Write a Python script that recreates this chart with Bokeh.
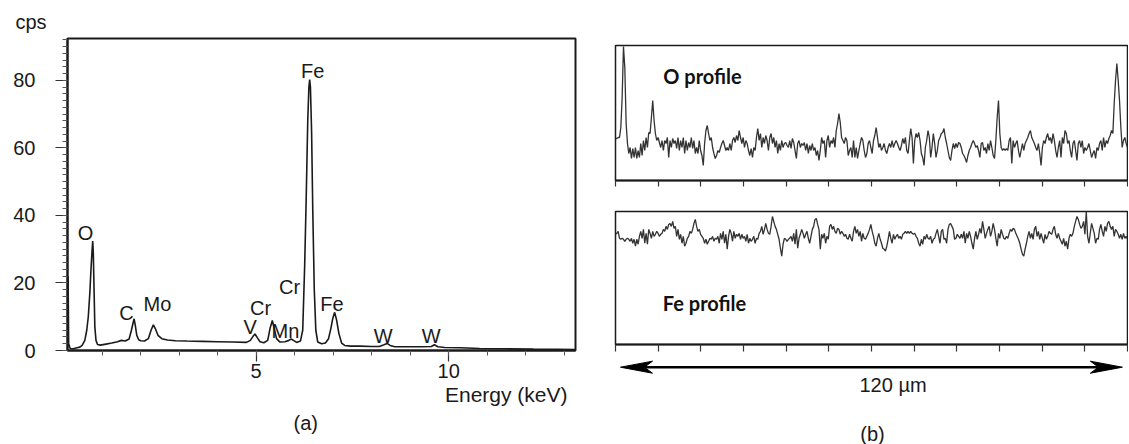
import numpy as np
from bokeh.plotting import figure
from bokeh.layouts import row, column
from bokeh.models import Label, FixedTicker, SingleIntervalTicker, Range1d, Title
from bokeh.embed import file_html
from bokeh.resources import INLINE

# ---------------- data: EDS spectrum (a) ----------------
energy_kev = [0.10, 0.115, 0.13, 0.17, 0.25, 0.35, 0.42, 0.48, 0.55, 0.60, 0.64, 0.68,
              0.71, 0.74, 0.755, 0.77, 0.79, 0.81, 0.84, 0.88, 0.95, 1.10, 1.25, 1.40,
              1.50, 1.60, 1.70, 1.76, 1.80, 1.83, 1.86, 1.90, 1.95, 2.00, 2.10, 2.20,
              2.27, 2.33, 2.38, 2.45, 2.55, 2.70, 2.90, 3.20, 3.60, 4.00, 4.40, 4.75,
              4.85, 4.92, 4.97, 5.03, 5.10, 5.20, 5.30, 5.36, 5.42, 5.47, 5.53, 5.62,
              5.75, 5.85, 5.91, 5.97, 6.05, 6.15, 6.21, 6.26, 6.30, 6.34, 6.37, 6.39,
              6.41, 6.44, 6.47, 6.51, 6.55, 6.60, 6.70, 6.80, 6.88, 6.94, 6.99, 7.04,
              7.09, 7.15, 7.22, 7.30, 7.45, 7.70, 8.00, 8.20, 8.32, 8.40, 8.48, 8.60,
              8.90, 9.30, 9.55, 9.63, 9.72, 9.90, 10.3, 10.8, 11.5, 12.2, 12.8, 13.3]
counts_cps = [1.0, 22.0, 2.0, 0.6, 0.5, 0.8, 1.0, 1.5, 3.0, 6.0, 10.0, 17.0,
              24.0, 30.0, 32.4, 29.0, 18.0, 7.0, 3.0, 1.8, 1.6, 1.9, 2.2, 2.6,
              3.0, 2.8, 3.4, 6.0, 8.0, 9.4, 7.5, 4.5, 3.2, 2.9, 2.8, 3.5,
              6.0, 7.6, 6.5, 4.5, 3.5, 3.1, 2.9, 2.8, 2.7, 2.6, 2.5, 2.4,
              3.0, 4.2, 4.9, 3.8, 2.6, 2.3, 3.0, 6.5, 8.9, 6.5, 3.5, 2.5,
              2.6, 3.0, 3.4, 3.0, 2.4, 2.8, 6.0, 25.0, 45.0, 68.0, 78.0, 80.3,
              78.0, 65.0, 42.0, 18.0, 6.0, 2.5, 2.0, 2.2, 3.5, 6.5, 9.5, 11.3,
              9.0, 5.0, 2.2, 1.5, 1.3, 1.3, 1.2, 1.2, 1.7, 2.1, 1.5, 1.1,
              1.1, 1.1, 1.2, 1.7, 1.1, 0.9, 0.8, 0.6, 0.5, 0.4, 0.35, 0.3]

peak_labels = ["O", "C", "Mo", "V", "Cr", "Mn", "Cr", "Fe", "Fe", "W", "W"]
peak_label_x = [0.568, 1.632, 2.438, 4.845, 5.113, 5.762, 5.866, 6.471, 6.969, 8.30, 9.547]
peak_label_y = [34.7, 11.05, 13.7, 6.9, 12.74, 5.72, 18.76, 82.76, 13.63, 4.24, 4.24]

# ---------------- data: line profiles (b) ----------------
scan_length_um = 120
o_profile = [
    42, 42, 43, 43, 53, 83, 134, 113, 57, 37, 27, 33, 22, 32, 23, 33, 22, 30, 23, 37,
    25, 40, 30, 43, 33, 48, 47, 63, 80, 60, 47, 40, 43, 38, 33, 40, 30, 40, 37, 43,
    23, 40, 33, 42, 37, 40, 32, 43, 30, 40, 33, 43, 27, 40, 30, 38, 33, 43, 32, 40,
    27, 33, 27, 40, 30, 25, 15, 37, 50, 55, 47, 40, 43, 33, 27, 22, 25, 30, 28, 33,
    37, 40, 35, 30, 33, 30, 37, 30, 40, 43, 38, 45, 40, 50, 43, 37, 43, 33, 40, 37,
    30, 25, 32, 23, 33, 30, 43, 52, 40, 47, 33, 43, 37, 45, 40, 30, 43, 47, 37, 43,
    33, 40, 27, 37, 30, 40, 33, 37, 38, 35,
    33, 40, 32, 42, 38, 30, 22, 37, 40, 33, 37, 35, 38, 30, 37, 27, 35, 30, 37, 30,
    33, 25, 30, 20, 30, 43, 37, 40, 23, 40, 45, 33, 40, 37, 43, 33, 50, 57, 67, 58,
    43, 40, 37, 43, 40, 25, 30, 33, 23, 40, 23, 33, 22, 30, 37, 43, 40, 30, 23, 27,
    37, 40, 33, 27, 40, 45, 53, 43, 33, 37, 30, 33, 37, 30, 27, 33, 37, 33, 40, 33,
    37, 40, 37, 33, 30, 35, 42, 37, 43, 30, 27, 40, 52, 43, 17, 40, 47, 43, 48, 40,
    27, 23, 15, 33, 40, 50, 43, 23, 33, 47, 37, 23, 30, 40, 43, 47, 48, 52, 43, 37,
    30, 23, 20, 30, 37, 32, 37, 33, 38, 37,
    33, 27, 25, 22, 18, 25, 30, 33, 37, 40, 37, 33, 35, 30, 23, 37, 38, 30, 33, 27,
    37, 30, 40, 33, 25, 22, 40, 63, 80, 47, 33, 30, 32, 30, 32, 30, 40, 43, 17, 40,
    33, 37, 40, 30, 23, 30, 37, 30, 37, 40, 43, 47, 50, 43, 40, 37, 33, 30, 37, 27,
    15, 33, 40, 37, 43, 47, 40, 43, 37, 47, 40, 30, 23, 33, 40, 23, 43, 37, 50, 47,
    37, 40, 30, 23, 37, 40, 30, 20, 37, 40, 33, 40, 27, 33, 30, 33, 37, 30, 23, 27,
    30, 22, 33, 30, 37, 40, 30, 43, 33, 40, 37, 42, 45, 50, 47, 77, 100, 117, 100, 80,
    53, 33, 40, 43, 37, 33]
fe_profile = [
    111, 112, 114, 107, 106, 107, 106, 104, 106, 107, 106, 104, 107, 102, 106, 99, 106, 101, 109, 114,
    107, 116, 102, 112, 101, 116, 112, 107, 114, 109, 111, 114, 112, 109, 111, 112, 116, 114, 119, 116,
    121, 122, 119, 124, 117, 119, 109, 116, 106, 111, 102, 109, 99, 102, 107, 109, 114, 112, 116, 122,
    126, 119, 114, 116, 111, 109, 107, 102, 106, 101, 104, 107, 106, 109, 104, 107, 106, 109, 102, 112,
    106, 114, 102, 111, 96, 109, 116, 112, 104, 114, 107, 111, 109, 112, 106, 111, 107, 109, 104, 111,
    102, 107, 104, 106, 109, 102, 107, 106, 112, 114, 119, 111, 116, 122, 116, 112, 111, 119, 129, 124,
    119, 116, 111, 106, 97, 89, 101, 107, 106, 104,
    106, 107, 109, 104, 112, 101, 116, 97, 107, 111, 116, 112, 107, 111, 114, 107, 102, 109, 116, 119,
    126, 127, 121, 116, 96, 111, 107, 112, 102, 109, 106, 119, 121, 116, 119, 114, 112, 117, 116, 111,
    114, 112, 109, 111, 107, 106, 111, 107, 104, 114, 119, 112, 116, 109, 114, 104, 112, 107, 106, 109,
    112, 116, 121, 114, 109, 102, 99, 107, 112, 106, 102, 97, 96, 94, 99, 106, 114, 107, 102, 111,
    106, 109, 111, 107, 109, 106, 111, 112, 114, 112, 114, 112, 114, 112, 111, 112, 109, 107, 102, 99,
    106, 101, 109, 106, 111, 107, 106, 109, 102, 106, 107, 112, 116, 109, 102, 114, 116, 106, 107, 102,
    116, 121, 122, 119, 116, 106, 107, 111, 109, 107,
    111, 107, 114, 102, 112, 107, 114, 109, 102, 96, 107, 114, 106, 111, 117, 112, 124, 116, 107, 112,
    116, 119, 109, 114, 122, 116, 107, 99, 112, 107, 116, 111, 107, 106, 109, 107, 112, 116, 114, 117,
    116, 112, 109, 106, 102, 96, 91, 89, 96, 102, 109, 114, 107, 112, 106, 116, 119, 109, 114, 106,
    112, 107, 102, 111, 106, 109, 114, 112, 111, 116, 119, 111, 107, 112, 107, 104, 101, 107, 99, 104,
    96, 107, 111, 109, 112, 119, 124, 129, 126, 121, 117, 119, 124, 111, 134, 109, 102, 112, 122, 117,
    112, 102, 107, 106, 116, 121, 114, 109, 119, 114, 122, 124, 119, 116, 119, 109, 116, 114, 111, 107,
    111, 106, 112, 107, 109, 106]

# ---------------- styling constants ----------------
ARIAL = "Liberation Sans"
TXT = "20px"
INK = "#1a1a1a"


def base_axes(p):
    p.xgrid.visible = False
    p.ygrid.visible = False
    p.outline_line_color = INK
    p.outline_line_width = 2
    p.background_fill_color = "white"
    p.border_fill_color = "white"


def text_title(text, align, offset, standoff, size=TXT, valign="bottom"):
    return Title(text=text, align=align, offset=offset, standoff=standoff,
                 vertical_align=valign,
                 text_font=ARIAL, text_font_size=size, text_font_style="normal",
                 text_color=INK)


# ---------------- panel (a) ----------------
fa = figure(width=608, height=442, x_range=Range1d(0.1, 13.295), y_range=Range1d(0, 92.44),
            output_backend="svg", toolbar_location=None, title=None,
            min_border_left=67, min_border_right=33, min_border_top=38, min_border_bottom=92)
base_axes(fa)
fa.line(energy_kev, counts_cps, line_color=INK, line_width=1.6)

fa.xaxis.ticker = FixedTicker(ticks=[5, 10], minor_ticks=list(range(1, 14)))
fa.yaxis.ticker = SingleIntervalTicker(interval=20, num_minor_ticks=10)
for ax in (fa.xaxis[0], fa.yaxis[0]):
    ax.axis_line_color = INK
    ax.axis_line_width = 2
    ax.major_tick_line_color = "#333333"
    ax.minor_tick_line_color = "#555555"
    ax.major_tick_line_width = 1.2
    ax.minor_tick_line_width = 1
    ax.major_tick_in = 0
    ax.minor_tick_in = 0
    ax.major_label_text_font = ARIAL
    ax.major_label_text_font_size = TXT
    ax.major_label_text_color = INK
fa.yaxis.major_tick_out = 12
fa.yaxis.minor_tick_out = 5
fa.yaxis.major_label_standoff = 20
fa.xaxis.major_tick_out = 11
fa.xaxis.minor_tick_out = 5
fa.xaxis.major_label_standoff = 2

for t, x, y in zip(peak_labels, peak_label_x, peak_label_y):
    fa.add_layout(Label(x=x, y=y, text=t, text_font=ARIAL, text_font_size=TXT,
                        text_align="center", text_baseline="middle", text_color=INK))

fa.add_layout(text_title("cps", "left", -52, 11), "above")
fa.add_layout(text_title("Energy (keV)", "right", 8, 0, "21px"), "below")
fa.add_layout(text_title("(a)", "left", 226, 12, TXT, "top"), "below")


# ---------------- panel (b) ----------------
def profile_fig(height, top, bottom, ymax, tick_out):
    p = figure(width=520, height=height, x_range=Range1d(0, scan_length_um),
               y_range=Range1d(0, ymax), output_backend="svg", toolbar_location=None,
               title=None, min_border_left=7, min_border_right=1, min_border_top=top,
               min_border_bottom=bottom)
    base_axes(p)
    p.outline_line_width = 1.5
    p.yaxis.visible = False
    p.xaxis.ticker = FixedTicker(ticks=[], minor_ticks=list(range(0, 121, 10)))
    p.xaxis.axis_line_color = INK
    p.xaxis.axis_line_width = 2
    p.xaxis.minor_tick_in = 0
    p.xaxis.minor_tick_out = tick_out
    p.xaxis.minor_tick_line_color = "#333333"
    p.xaxis.minor_tick_line_width = 1.2
    p.xaxis.major_label_standoff = 0
    return p


fo = profile_fig(200, 45, 20, 135, 6)
fo.line(np.linspace(0, scan_length_um, len(o_profile)), o_profile,
        line_color="#333333", line_width=1.3)
fo.add_layout(Label(x=20.39, y=104.3, text="O profile", text_font="Lato",
                    text_font_style="bold", text_font_size=TXT, text_align="center",
                    text_baseline="middle", text_color="#111111"))

ffe = profile_fig(156, 11, 12, 134, 7)
ffe.line(np.linspace(0, scan_length_um, len(fe_profile)), fe_profile,
         line_color="#333333", line_width=1.3)
ffe.add_layout(Label(x=20.86, y=42.3, text="Fe profile", text_font="Lato",
                     text_font_style="bold", text_font_size=TXT, text_align="center",
                     text_baseline="middle", text_color="#111111"))

# scale bar strip: 120 µm arrow with caption
fbar = figure(width=520, height=88, x_range=Range1d(0, scan_length_um),
              y_range=Range1d(0, 88), output_backend="svg", toolbar_location=None,
              title=None, min_border_left=7, min_border_right=1, min_border_top=0,
              min_border_bottom=0)
fbar.axis.visible = False
fbar.xgrid.visible = False
fbar.ygrid.visible = False
fbar.outline_line_color = None
ay, ax0, ax1 = 77.3, 1.17, 118.8
head_len, notch, half_w = 7.5, 5.6, 6.0
fbar.segment(x0=[ax0 + notch], y0=[ay], x1=[ax1 - notch], y1=[ay],
             line_width=2.5, line_color="black")
fbar.patch([ax0, ax0 + head_len, ax0 + notch, ax0 + head_len],
           [ay, ay + half_w, ay, ay - half_w], color="black")
fbar.patch([ax1, ax1 - head_len, ax1 - notch, ax1 - head_len],
           [ay, ay + half_w, ay, ay - half_w], color="black")
fbar.add_layout(Label(x=65.04, y=60.0, text="120 µm", text_font=ARIAL, text_font_size=TXT,
                      text_align="center", text_baseline="middle", text_color=INK))
fbar.add_layout(Label(x=60.23, y=10.5, text="(b)", text_font=ARIAL, text_font_size=TXT,
                      text_align="center", text_baseline="middle", text_color=INK))

layout = row(fa, column(fo, ffe, fbar))
open("out.html", "w").write(file_html(layout, INLINE))
